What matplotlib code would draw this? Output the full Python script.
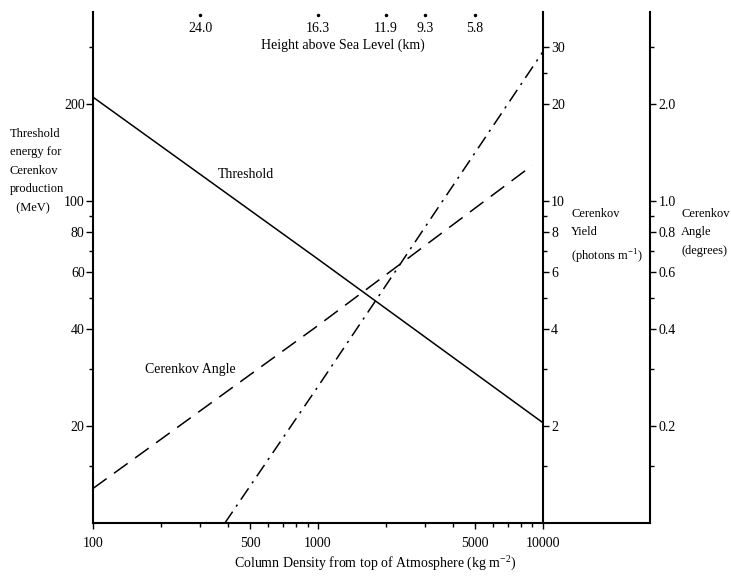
import numpy as np
import matplotlib
matplotlib.use("Agg")
import matplotlib.pyplot as plt
from matplotlib.ticker import FixedLocator, NullFormatter, FixedFormatter
import matplotlib.transforms as mtransforms

plt.rcParams['font.family'] = ['Liberation Serif', 'DejaVu Serif']
plt.rcParams['font.size'] = 10

# ---- data ----
threshold_x = [100, 1000, 10000]          # column density (kg m^-2)
threshold_E = [210, 66, 20.5]             # MeV

angle_x = [100, 1000, 9000]
angle_deg = [0.128, 0.41, 1.29]           # degrees

yield_x = [386, 1000, 10000]
yield_ph = [1.0, 2.65, 29]                # photons per m

height_pos = [300, 1000, 2000, 3000, 5000]
height_labels = ['24.0', '16.3', '11.9', '9.3', '5.8']

x_major = [100, 500, 1000, 5000, 10000]
left_major = [20, 40, 60, 80, 100, 200]
yield_major = [2, 4, 6, 8, 10, 20, 30]
angle_major = [0.2, 0.4, 0.6, 0.8, 1.0, 2.0]
angle_major_labels = ['0.2', '0.4', '0.6', '0.8', '1.0', '2.0']

xlim = (100, 30000)
ylim = (10, 386)

fig = plt.figure(figsize=(7.31, 5.76), dpi=100)
ax = fig.add_axes([93/731, 53/576, 557/731, 511/576])
ax.set_xscale('log'); ax.set_yscale('log')
ax.set_xlim(*xlim); ax.set_ylim(*ylim)
ax.patch.set_alpha(0)
for s in ['top', 'right']:
    ax.spines[s].set_visible(False)
ax.spines['left'].set_linewidth(1.5)
ax.spines['bottom'].set_linewidth(1.5)

ax.xaxis.set_major_locator(FixedLocator(x_major))
ax.xaxis.set_major_formatter(FixedFormatter([str(v) for v in x_major]))
minor_x = [v * m for v in [100, 1000] for m in range(2, 10) if v * m not in x_major]
ax.xaxis.set_minor_locator(FixedLocator(minor_x))
ax.xaxis.set_minor_formatter(NullFormatter())
ax.tick_params(axis='x', which='major', direction='out', length=4, width=1, pad=6, labelsize=10)
ax.tick_params(axis='x', which='minor', direction='out', length=3, width=1)

ax.yaxis.set_major_locator(FixedLocator(left_major))
ax.yaxis.set_major_formatter(FixedFormatter([str(v) for v in left_major]))
ax.yaxis.set_minor_locator(FixedLocator([15, 30, 50, 70, 90, 300]))
ax.yaxis.set_minor_formatter(NullFormatter())
ax.tick_params(axis='y', which='major', direction='out', length=5, width=1, pad=1, labelsize=10)
ax.tick_params(axis='y', which='minor', direction='out', length=3, width=1)

ax.plot(threshold_x, threshold_E, color='black', lw=1.1, solid_capstyle='butt')

# yield axis at x = 10000
frac = (np.log10(10000) - np.log10(xlim[0])) / (np.log10(xlim[1]) - np.log10(xlim[0]))
ay = ax.twinx()
ay.set_yscale('log')
ay.set_ylim(ylim[0] / 10, ylim[1] / 10)
for s in ['top', 'left', 'bottom']:
    ay.spines[s].set_visible(False)
ay.spines['right'].set_position(('axes', frac))
ay.spines['right'].set_linewidth(1.5)
ay.yaxis.set_major_locator(FixedLocator(yield_major))
ay.yaxis.set_major_formatter(FixedFormatter([str(v) for v in yield_major]))
ay.yaxis.set_minor_locator(FixedLocator([1.5, 3, 5, 7, 9, 25]))
ay.yaxis.set_minor_formatter(NullFormatter())
ay.tick_params(axis='y', which='major', direction='out', length=4, width=1, pad=2, labelsize=10)
ay.tick_params(axis='y', which='minor', direction='out', length=3, width=1)
ay.plot(yield_x, yield_ph, color='black', lw=1.1, dashes=(9, 4, 1.5, 4))

# angle axis at far right
aa = ax.twinx()
aa.set_yscale('log')
aa.set_ylim(ylim[0] / 100, ylim[1] / 100)
for s in ['top', 'left', 'bottom']:
    aa.spines[s].set_visible(False)
aa.spines['right'].set_linewidth(1.5)
aa.yaxis.set_major_locator(FixedLocator(angle_major))
aa.yaxis.set_major_formatter(FixedFormatter(angle_major_labels))
aa.yaxis.set_minor_locator(FixedLocator([0.15, 0.3, 0.5, 0.7, 0.9, 3.0]))
aa.yaxis.set_minor_formatter(NullFormatter())
aa.tick_params(axis='y', which='major', direction='out', length=4, width=1, pad=2, labelsize=10)
aa.tick_params(axis='y', which='minor', direction='out', length=3, width=1)
aa.plot(angle_x, angle_deg, color='black', lw=1.1, dashes=(11, 6))

# top height scale
trans = mtransforms.blended_transform_factory(ax.transData, ax.transAxes)
for xp, lab in zip(height_pos, height_labels):
    ax.plot([xp], [0.994], marker='o', ms=1.5, color='black', transform=trans, clip_on=False)
    ax.text(xp, 0.968, lab, transform=trans, ha='center', va='center', fontsize=10)
fig.text(343/731, 1 - 45/576, 'Height above Sea Level (km)', ha='center', va='center', fontsize=10)

# curve labels
ax.text(480, 121, 'Threshold', ha='center', va='center', fontsize=10)
ax.text(270, 30, 'Cerenkov Angle', ha='center', va='center', fontsize=10)

# axis labels
fig.text(10/731, 1 - 128/576, 'Threshold\nenergy for\nCerenkov\nproduction\n  (MeV)',
         ha='left', va='top', fontsize=9, linespacing=1.72)
fig.text(571/731, 1 - 208/576, 'Cerenkov\nYield\n(photons m$^{\\mathregular{-1}}$)',
         ha='left', va='top', fontsize=9, linespacing=1.72)
fig.text(681/731, 1 - 208/576, 'Cerenkov\nAngle\n(degrees)',
         ha='left', va='top', fontsize=9, linespacing=1.72)
fig.text(375/731, 1 - 563/576, 'Column Density from top of Atmosphere (kg m$^{\\mathregular{-2}}$)',
         ha='center', va='center', fontsize=10)

fig.savefig('out.png', dpi=100)
